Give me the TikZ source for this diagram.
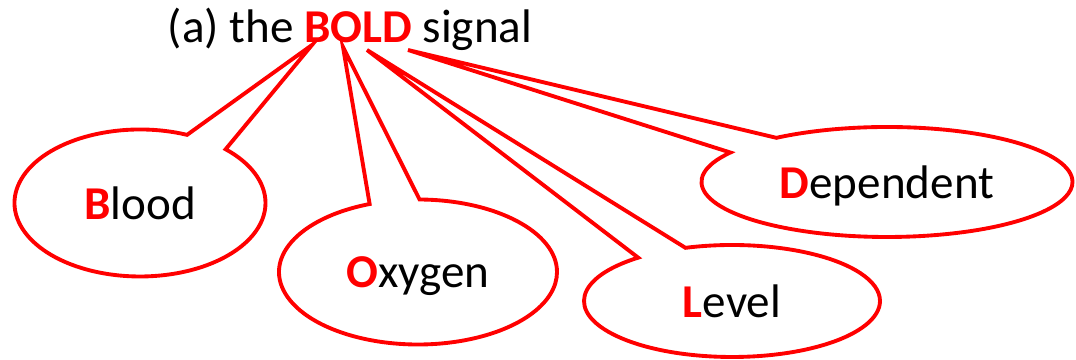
\documentclass[tikz,border=0pt]{standalone}
\usepackage{fontspec}
\setmainfont{Carlito}
\usepackage{tikz}
\usetikzlibrary{shapes.callouts}

\begin{document}
\begin{tikzpicture}[
  title/.style={inner sep=0pt, anchor=base, font=\fontsize{26.8}{32}\selectfont},
  word/.style={ellipse callout, draw=red, fill=white, line width=2.2pt, callout pointer arc=21, inner sep=0pt, text depth=0pt, font=\fontsize{26.8}{32}\selectfont},
]
\useasboundingbox (0,0) rectangle (21.52,7.2);

\node[title] (title) at (7.0,6.34) {(a) the \textcolor{red}{\textbf{BOLD}} signal};

\coordinate (tipB) at (6.24,6.30);
\coordinate (tipO) at (6.86,6.26);
\coordinate (tipL) at (7.34,6.20);
\coordinate (tipD) at (8.16,6.20);

\node[word, minimum width=5.02cm, minimum height=2.94cm, callout absolute pointer={(tipB)}] (blood) at (2.80,3.14) {\textcolor{red}{\textbf{B}}lood};
\node[word, minimum width=5.56cm, minimum height=2.90cm, callout absolute pointer={(tipO)}] (oxygen) at (8.36,1.76) {\textcolor{red}{\textbf{O}}xygen};
\node[word, minimum width=5.92cm, minimum height=2.24cm, callout absolute pointer={(tipL)}] (level) at (14.64,1.18) {\textcolor{red}{\textbf{L}}evel};
\node[word, minimum width=7.42cm, minimum height=2.20cm, callout absolute pointer={(tipD)}] (dependent) at (17.74,3.56) {\textcolor{red}{\textbf{D}}ependent};
\end{tikzpicture}
\end{document}
